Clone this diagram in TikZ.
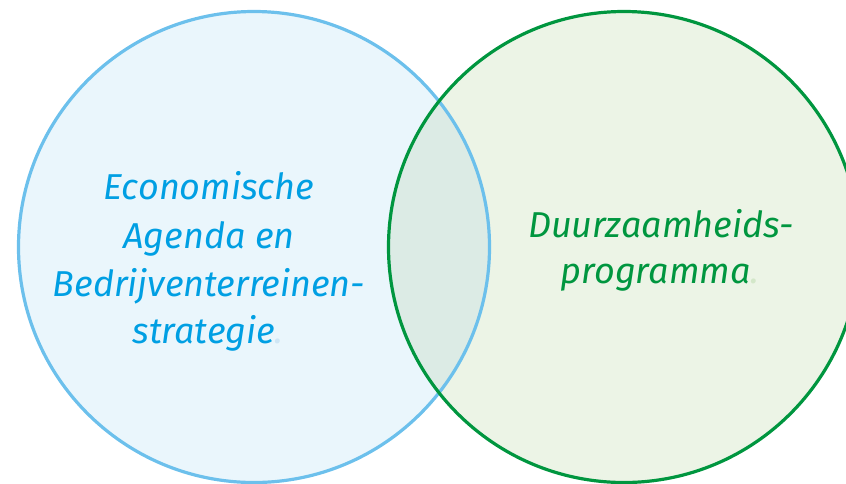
\documentclass[tikz,border=0pt]{standalone}
\usepackage{fontspec}
\setmainfont{Fira Sans}
\definecolor{bluetext}{HTML}{009FE3}
\definecolor{bluestroke}{HTML}{6CC0EC}
\definecolor{bluefill}{HTML}{EAF6FC}
\definecolor{bluedot}{HTML}{CFE6F5}
\definecolor{greentext}{HTML}{00963F}
\definecolor{greenstroke}{HTML}{00963F}
\definecolor{greenfill}{HTML}{ECF4E6}
\definecolor{greendot}{HTML}{D3E7C9}
\definecolor{overlapfill}{HTML}{DCEBE5}
\begin{document}
\begin{tikzpicture}[x=1pt,y=-1pt,
  lbl/.style={anchor=base,inner sep=0pt,font=\fontsize{36}{36}\selectfont\itshape},
  bluelbl/.style={lbl,text=bluetext},
  greenlbl/.style={lbl,text=greentext},
  ring/.style={line width=3.2pt}]
\useasboundingbox (0,0) rectangle (846,483);
\coordinate (cl) at (254,247);
\coordinate (cr) at (624,247);
\fill[bluefill] (cl) circle (235.5pt);
\fill[greenfill] (cr) circle (235.5pt);
\begin{scope}
  \clip (cl) circle (235.5pt);
  \fill[overlapfill] (cr) circle (235.5pt);
\end{scope}
\draw[ring,bluestroke] (cl) circle (235.5pt);
\draw[ring,greenstroke] (cr) circle (235.5pt);
\node[bluelbl] (l1) at (209,199) {Economische};
\node[bluelbl] (l2) at (209,248) {Agenda en};
\node[bluelbl] (l3) at (209,296) {Bedrijventerreinen-};
\node[bluelbl] (l4) at (208,343) {strategie\textcolor{bluedot}{.}};
\node[greenlbl] (r1) at (661,237) {Duurzaamheids-};
\node[greenlbl] (r2) at (660,283) {programma\textcolor{greendot}{.}};
\end{tikzpicture}
\end{document}
